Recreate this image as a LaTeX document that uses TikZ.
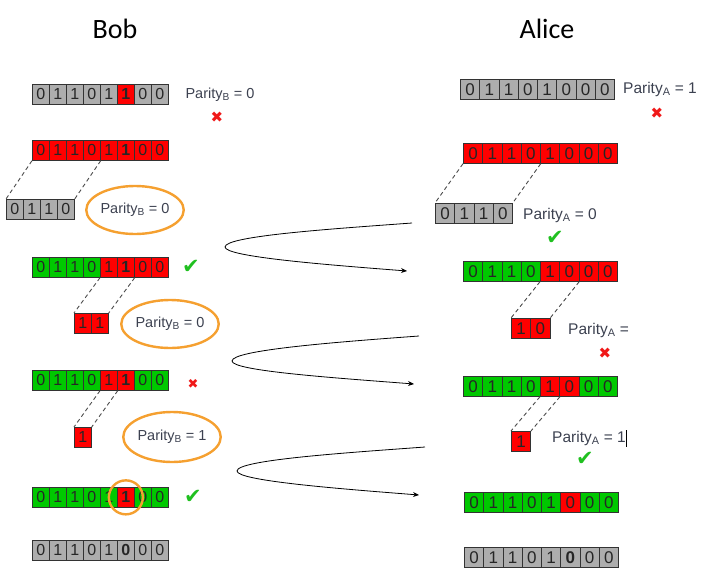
\documentclass[tikz,border=0pt]{standalone}
\usepackage{fontspec}
\setmainfont{Liberation Sans}
\newfontfamily\titlefont{Carlito}
\newfontfamily\dvsym{DejaVu Sans}
\usetikzlibrary{shapes.geometric,arrows.meta}
\definecolor{cgray}{HTML}{ADADAD}
\definecolor{cred}{HTML}{FF0000}
\definecolor{cgreen}{HTML}{00C800}
\definecolor{corange}{HTML}{F5A030}
\definecolor{ptext}{HTML}{3C4150}
\definecolor{xred}{HTML}{F01818}
\definecolor{vgreen}{HTML}{20C020}
\tikzset{
  cell/.style={draw=black!80, line width=0.7pt, inner sep=0pt, minimum height=20pt, text=black!85, anchor=north west},
  bobcell/.style={cell, minimum width=17pt, font=\fontsize{16}{16}\selectfont},
  alicell/.style={cell, minimum width=19.25pt, font=\fontsize{17}{17}\selectfont},
  partext/.style={text=ptext, inner sep=0pt, font=\fontsize{14.5}{15}\selectfont},
  apartext/.style={text=ptext, inner sep=0pt, font=\fontsize{15.5}{16}\selectfont},
  ring/.style={ellipse, draw=corange, line width=2.4pt, minimum width=87pt, minimum height=48pt, inner sep=0pt, text=ptext, font=\fontsize{14.5}{15}\selectfont},
  dashline/.style={draw=black!70, line width=0.9pt, dash pattern=on 4pt off 3pt},
  crossmark/.style={text=xred, inner sep=0pt, font=\dvsym\fontsize{15}{15}\selectfont},
  checkmark/.style={text=vgreen, inner sep=0pt, font=\dvsym\fontsize{21}{21}\selectfont},
  title/.style={font=\titlefont\fontsize{28}{28}\selectfont, inner sep=0pt, anchor=base},
  swirl/.style={draw=black, line width=0.8pt, -{Stealth[length=6pt,width=5pt]}}
}
\newcommand\bobrow[4]{%
  \foreach \col/\bit [count=\i] in {#4} {
    \node[bobcell, fill=\col] (#1-\i) at ({#2+(\i-1)*17}, #3) {\bit};
  }}
\newcommand\alirow[4]{%
  \foreach \col/\bit [count=\i] in {#4} {
    \node[alicell, fill=\col] (#1-\i) at ({#2+(\i-1)*19.25}, #3) {\bit};
  }}
\begin{document}
\begin{tikzpicture}[x=1pt,y=-1pt]
\useasboundingbox (0,0) rectangle (718,579);
% titles
\node[title] (bob) at (115,38) {Bob};
\node[title] (alice) at (547,38) {Alice};
% ---------- Bob ----------
\bobrow{B1}{32}{84}{cgray/0,cgray/1,cgray/1,cgray/0,cgray/1,cred/{\textbf{1}},cgray/0,cgray/0}
\node[partext] (PB1) at (220,95) {Parity\textsubscript{B} = 0};
\node[crossmark] (XB1) at (217,117) {✖};
\bobrow{B2}{32}{140}{cred/0,cred/1,cred/1,cred/0,cred/1,cred/{\textbf{1}},cred/0,cred/0}
\bobrow{B2s}{6}{199}{cgray/0,cgray/1,cgray/1,cgray/0}
\draw[dashline] (B2-1.south west) -- (B2s-1.north west);
\draw[dashline] (B2-4.south east) -- (B2s-4.north east);
\node[ring] (PB2) at (135,210) {Parity\textsubscript{B} = 0};
\bobrow{B3}{32}{257}{cgreen/0,cgreen/1,cgreen/1,cgreen/0,cred/1,cred/{\textbf{1}},cred/0,cred/0}
\node[checkmark] (VB3) at (191,267) {✔};
\bobrow{B3s}{74}{313}{cred/1,cred/1}
\draw[dashline] (B3-5.south west) -- (B3s-1.north west);
\draw[dashline] (B3-6.south east) -- (B3s-2.north east);
\node[ring] (PB3) at (170,324) {Parity\textsubscript{B} = 0};
\bobrow{B4}{32}{370}{cgreen/0,cgreen/1,cgreen/1,cgreen/0,cred/1,cred/{\textbf{1}},cgreen/0,cgreen/0}
\node[crossmark, font=\dvsym\fontsize{13}{13}\selectfont] (XB4) at (193,384) {✖};
\bobrow{B4s}{74}{427}{cred/1}
\draw[dashline] (B4-5.south west) -- (B4s-1.north west);
\draw[dashline] (B4-5.south east) -- (B4s-1.north east);
\node[ring, minimum height=50pt] (PB4) at (172,437) {Parity\textsubscript{B} = 1};
\bobrow{B5}{32}{487}{cgreen/0,cgreen/1,cgreen/1,cgreen/0,cgreen/1,cred/{\textbf{1}},cgreen/0,cgreen/0}
\node[circle, draw=corange, line width=2.4pt, minimum size=34pt, inner sep=0pt] (RB5) at (B5-6.center) {};
\node[checkmark] (VB5) at (193,497) {✔};
\bobrow{B6}{32}{540}{cgray/0,cgray/1,cgray/1,cgray/0,cgray/1,cgray/{\textbf{0}},cgray/0,cgray/0}
% ---------- Alice ----------
\alirow{A1}{460}{79}{cgray/0,cgray/1,cgray/1,cgray/0,cgray/1,cgray/0,cgray/0,cgray/0}
\node[apartext] (PA1) at (660,89) {Parity\textsubscript{A} = 1};
\node[crossmark] (XA1) at (657,113) {✖};
\alirow{A2}{463}{143}{cred/0,cred/1,cred/1,cred/0,cred/1,cred/0,cred/0,cred/0}
\alirow{A2s}{435}{203}{cgray/0,cgray/1,cgray/1,cgray/0}
\draw[dashline] (A2-1.south west) -- (A2s-1.north west);
\draw[dashline] (A2-4.south east) -- (A2s-4.north east);
\node[apartext, anchor=west] (PA2) at (523,215) {Parity\textsubscript{A} = 0};
\node[checkmark] (VA2) at (555,238) {✔};
\alirow{A3}{463}{261}{cgreen/0,cgreen/1,cgreen/1,cgreen/0,cred/1,cred/0,cred/0,cred/0}
\alirow{A3s}{511}{318}{cred/1,cred/0}
\draw[dashline] (A3-5.south west) -- (A3s-1.north west);
\draw[dashline] (A3-6.south east) -- (A3s-2.north east);
\begin{scope}
\clip (560,310) rectangle (633.5,350);
\node[apartext, anchor=west] (PA3) at (568,330) {Parity\textsubscript{A} = 1};
\end{scope}
\node[crossmark] (XA3) at (605,353) {✖};
\alirow{A4}{463}{376}{cgreen/0,cgreen/1,cgreen/1,cgreen/0,cred/1,cred/0,cgreen/0,cgreen/0}
\alirow{A4s}{511}{431}{cred/1}
\draw[dashline] (A4-5.south west) -- (A4s-1.north west);
\draw[dashline] (A4-5.south east) -- (A4s-1.north east);
\node[apartext, anchor=west] (PA4) at (552,438) {Parity\textsubscript{A} = 1};
\coordinate (barT) at (626,430);
\coordinate (barB) at (626,447);
\draw[line width=0.8pt] (barT) -- (barB);
\node[checkmark] (VA4) at (585,459) {✔};
\alirow{A5}{464}{492}{cgreen/0,cgreen/1,cgreen/1,cgreen/0,cgreen/1,cred/0,cgreen/0,cgreen/0}
\alirow{A6}{464}{547}{cgray/0,cgray/1,cgray/1,cgray/0,cgray/1,cgray/{\textbf{0}},cgray/0,cgray/0}
% ---------- exchange arrows ----------
\coordinate (s1) at (412,223); \coordinate (t1) at (225,247); \coordinate (e1) at (407,271);
\coordinate (s2) at (419,336); \coordinate (t2) at (232,361); \coordinate (e2) at (414,384);
\coordinate (s3) at (425,447); \coordinate (t3) at (237,471); \coordinate (e3) at (419,495);
\draw[swirl] (s1) .. controls (330,229) and (225,236) .. (t1) .. controls (225,257) and (330,265) .. (e1);
\draw[swirl] (s2) .. controls (337,342) and (232,350) .. (t2) .. controls (232,371) and (337,378) .. (e2);
\draw[swirl] (s3) .. controls (343,453) and (237,460) .. (t3) .. controls (237,481) and (343,489) .. (e3);
\end{tikzpicture}
\end{document}
